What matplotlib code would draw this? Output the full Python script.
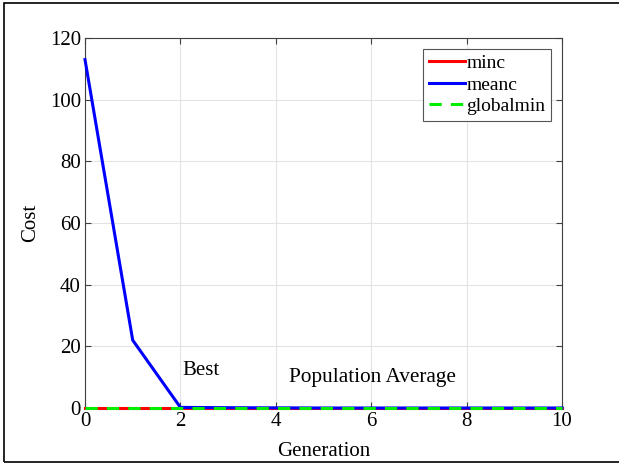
import matplotlib.pyplot as plt
from matplotlib.patches import Rectangle

plt.rcParams['font.family'] = ['Liberation Serif', 'DejaVu Serif']

generation = [0, 1, 2, 3, 4, 5, 6, 7, 8, 9, 10]
minc = [0, 0, 0, 0, 0, 0, 0, 0, 0, 0, 0]
meanc = [113, 22, 0.2, 0.1, 0.05, 0, 0, 0, 0, 0, 0]
globalmin = [0, 0, 0, 0, 0, 0, 0, 0, 0, 0, 0]

fig = plt.figure(figsize=(6.19, 4.65), dpi=100)
ax = fig.add_axes([85 / 619, 1 - 408 / 465, 477 / 619, 370 / 465])

# thin frame round the whole figure
fig.patches.append(Rectangle((4 / 619, 1 - 462 / 465), 1.0, 459 / 465,
                             transform=fig.transFigure, fill=False,
                             edgecolor='black', linewidth=1.2))

ax.plot(generation, minc, color='red', lw=2.2, label='minc',
        clip_on=False, zorder=5)
ax.plot(generation, meanc, color='blue', lw=2.2, label='meanc',
        clip_on=False, zorder=6)
ax.plot(generation, globalmin, color='#00ee00', lw=2.2, ls=(0, (4, 3)),
        label='globalmin', clip_on=False, zorder=7)

ax.set_xlim(0, 10)
ax.set_ylim(0, 120)
ax.set_xticks(range(0, 11, 2))
ax.set_yticks(range(0, 121, 20))
ax.grid(True, color='#e3e3e3', lw=0.8)
ax.set_axisbelow(True)
for s in ax.spines.values():
    s.set_color('#404040')
    s.set_linewidth(0.8)
ax.tick_params(direction='in', top=True, right=True, length=4,
               colors='#404040', labelcolor='black', labelsize=15, pad=3)

ax.set_xlabel('Generation', fontsize=15, labelpad=8)
ax.set_ylabel('Cost', fontsize=15, labelpad=7)

ax.text(2.05, 12.3, 'Best', fontsize=15, va='center')
ax.text(4.28, 9.8, 'Population Average', fontsize=15.3, va='center')

leg = ax.legend(loc='upper right', fontsize=14, fancybox=False,
                framealpha=1, edgecolor='#555555', handlelength=1.85,
                handletextpad=0.1, borderpad=0.3, labelspacing=0.2,
                borderaxespad=0.55)
leg.get_frame().set_linewidth(0.8)

fig.savefig('out.png', dpi=100)
